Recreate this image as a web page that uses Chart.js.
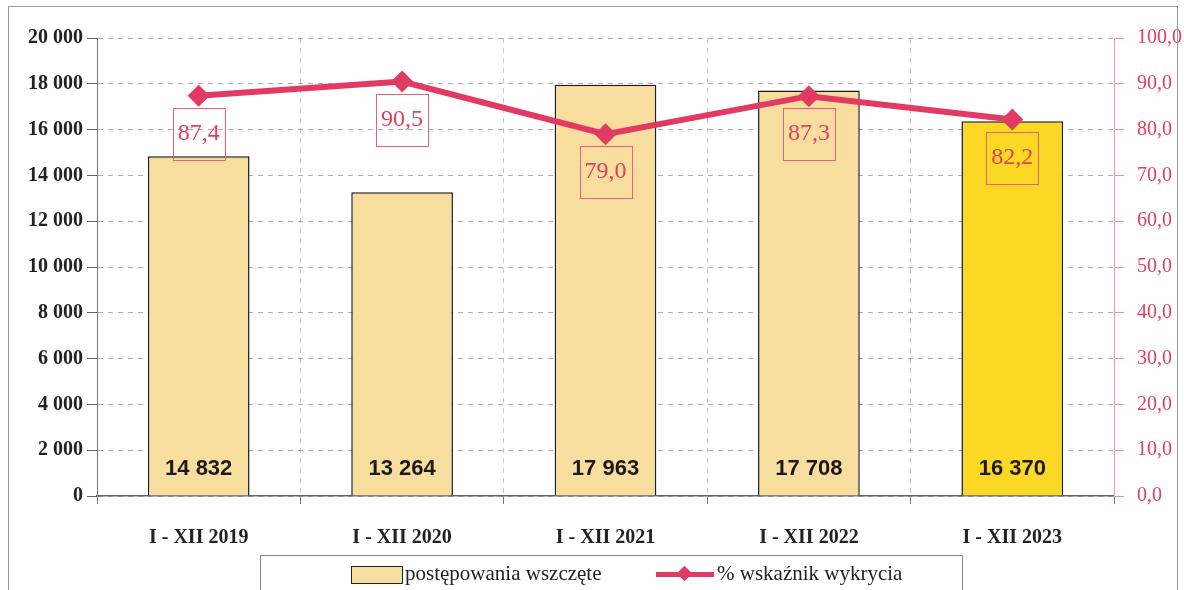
<!DOCTYPE html>
<html>
<head>
<meta charset="utf-8">
<script src="https://cdn.jsdelivr.net/npm/chart.js@4"></script>
<style>
  html, body { margin:0; padding:0; background:#fff; }
  #wrap { position:relative; width:1184px; height:590px; overflow:hidden; }
  #frame { position:absolute; left:8px; top:6px; width:1170px; height:600px; border:1px solid #999; box-sizing:border-box; }
  #legend { position:absolute; left:260px; top:555px; width:703px; height:50px; border:1px solid #888; box-sizing:border-box;
            font-family:"Liberation Serif", serif; font-size:21px; color:#222; }
  .sw { position:absolute; top:10px; width:50px; height:16px; background:#F8DE9E; border:1.5px solid #222; }
  .ln { position:absolute; top:16px; width:58px; height:5px; background:#E23A62; }
  .dm { position:absolute; top:12px; width:11px; height:11px; background:#E23A62; transform:rotate(45deg); }
  .tx { position:absolute; top:5px; white-space:nowrap; }
</style>
</head>
<body>
<div id="wrap">
  <div id="frame"></div>
  <canvas id="c" width="1184" height="590"></canvas>
  <div id="legend">
    <div class="sw" style="left:90px"></div>
    <div class="tx" style="left:144px">postępowania wszczęte</div>
    <div class="ln" style="left:395px"></div>
    <div class="dm" style="left:418px"></div>
    <div class="tx" style="left:456px">% wskaźnik wykrycia</div>
  </div>
</div>
<script>
/* ── DATA ─────────────────────────────────────────────────── */
const categories = ['I - XII 2019', 'I - XII 2020', 'I - XII 2021', 'I - XII 2022', 'I - XII 2023'];
const cases      = [14832, 13264, 17963, 17708, 16370];
const detection  = [87.4, 90.5, 79.0, 87.3, 82.2];
const caseLabels = ['14 832', '13 264', '17 963', '17 708', '16 370'];
const barColors  = ['#F8DE9E', '#F8DE9E', '#F8DE9E', '#F8DE9E', '#FAD824'];

const RED = '#E23A62';
// thousands with a space, also for 4-digit numbers
const fmtPl = v => String(v).replace(/\B(?=(\d{3})+(?!\d))/g, ' ');

/* ── LABELS PLUGIN ────────────────────────────────────────── */
const labelsPlugin = {
  id: 'labels',
  afterDatasetsDraw(chart) {
    const ctx = chart.ctx;
    ctx.save();
    // bar values
    const bars = chart.getDatasetMeta(1).data;
    ctx.font = 'bold 22px "Liberation Sans", Arial, sans-serif';
    ctx.fillStyle = '#1a1a1a';
    ctx.textAlign = 'center';
    ctx.textBaseline = 'middle';
    bars.forEach((b, i) => ctx.fillText(caseLabels[i], b.x, b.base - 27));
    // detection boxes
    const pts = chart.getDatasetMeta(0).data;
    ctx.font = '24px "Liberation Serif", serif';
    pts.forEach((p, i) => {
      const w = 52, h = 52, top = p.y + 12;
      ctx.strokeStyle = '#E8607A';
      ctx.lineWidth = 1;
      ctx.strokeRect(Math.round(p.x - w / 2) + 0.5, Math.round(top) + 0.5, w, h);
      ctx.fillStyle = '#E0405F';
      ctx.fillText(detection[i].toFixed(1).replace('.', ','), p.x, top + h / 2);
    });
    ctx.restore();
  }
};

/* ── CHART ────────────────────────────────────────────────── */
new Chart(document.getElementById('c'), {
  data: {
    labels: categories,
    datasets: [
      {
        type: 'line', label: '% wskaźnik wykrycia', data: detection, yAxisID: 'y1',
        borderColor: RED, backgroundColor: RED, borderWidth: 6,
        pointStyle: 'rectRot', pointRadius: 11, pointBorderWidth: 0,
        tension: 0, order: 0,
      },
      {
        type: 'bar', label: 'postępowania wszczęte', data: cases, yAxisID: 'y',
        backgroundColor: barColors, borderColor: '#1a1a1a', borderWidth: 1.5,
        barPercentage: 0.5, categoryPercentage: 1, order: 1,
      },
    ],
  },
  options: {
    responsive: false,
    animation: false,
    layout: { padding: { top: 38, left: 0, right: 0, bottom: 0 } },
    plugins: { legend: { display: false }, tooltip: { enabled: false } },
    scales: {
      x: {
        afterFit: s => { s.height = 94; },
        grid: { offset: true, color: '#c8c8c8', tickColor: '#777', tickLength: 8, drawOnChartArea: true },
        border: { color: '#666', width: 1.5, dash: [5, 5] },
        ticks: { color: '#222', padding: 22, font: { family: '"Liberation Serif", serif', size: 20, weight: 'bold' } },
      },
      y: {
        position: 'left', min: 0, max: 20000,
        afterFit: s => { s.width = 97; },
        ticks: { stepSize: 2000, color: '#222', padding: 4,
                 font: { family: '"Liberation Serif", serif', size: 20, weight: 'bold' },
                 callback: v => fmtPl(v) },
        grid: { color: 'rgba(150,140,175,0.75)', tickColor: '#666', tickLength: 10 },
        border: { color: '#777', width: 1, dash: [5, 5] },
      },
      y1: {
        position: 'right', min: 0, max: 100,
        afterFit: s => { s.width = 70; },
        ticks: { stepSize: 10, color: '#E0405F', padding: 13,
                 font: { family: '"Liberation Serif", serif', size: 20 },
                 callback: v => v.toFixed(1).replace('.', ',') },
        grid: { drawOnChartArea: false, tickColor: '#EC8FA2', tickLength: 10 },
        border: { color: '#EC9FB0', width: 1 },
      },
    },
  },
  plugins: [labelsPlugin],
});
</script>
</body>
</html>
